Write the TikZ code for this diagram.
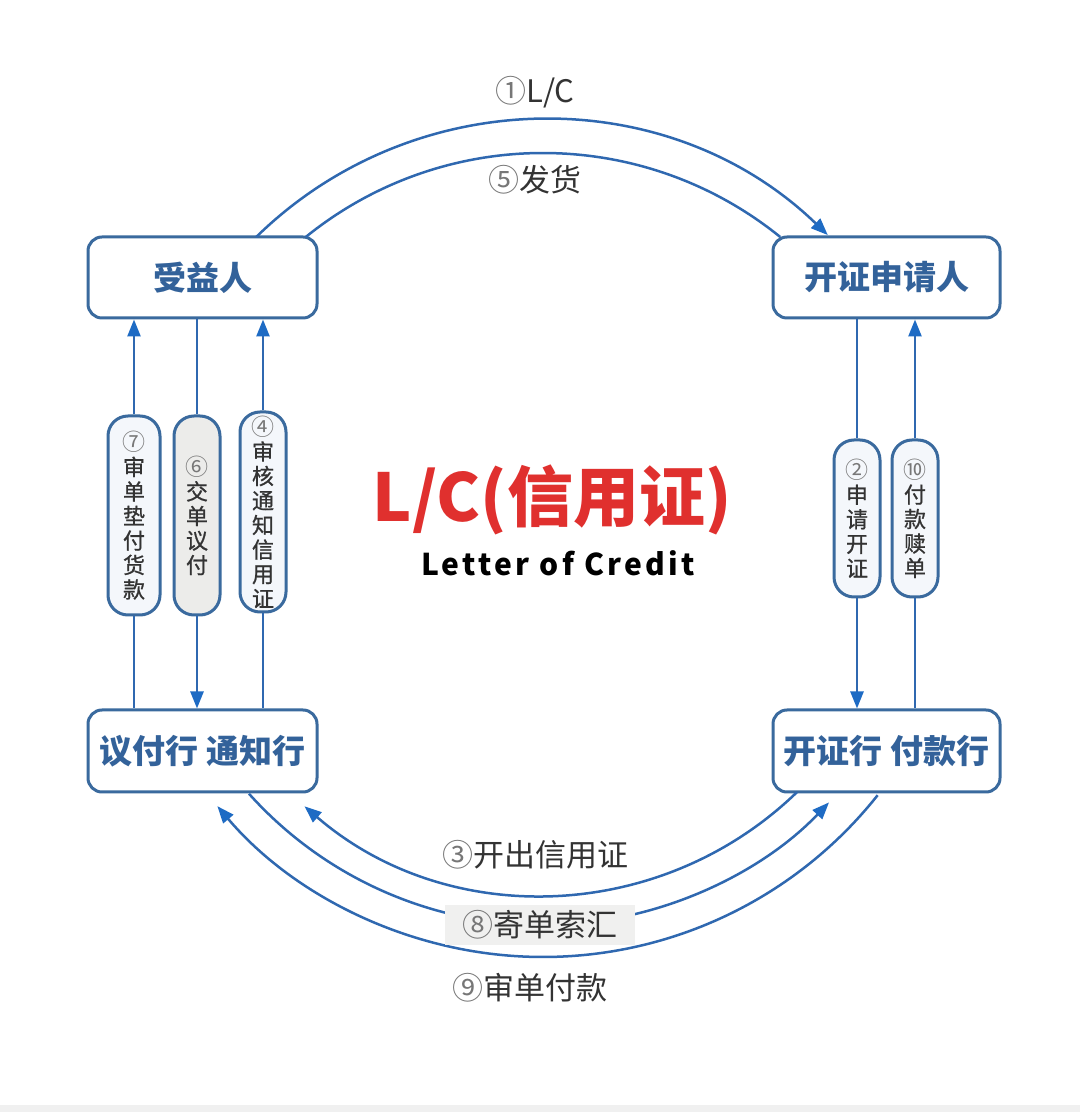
\documentclass[tikz,border=0pt]{standalone}
\usepackage{fontspec}
\setmainfont{Noto Sans CJK SC}
\newfontfamily\latb[LetterSpace=11]{Noto Sans CJK SC}
\newfontfamily\cjkmed[FakeBold=0.9]{Noto Sans CJK SC}
\usetikzlibrary{arrows.meta,calc}
\definecolor{boxblue}{HTML}{3A6A9E}
\definecolor{txtblue}{HTML}{33629A}
\definecolor{arrblue}{HTML}{2F68B0}
\definecolor{tipblue}{HTML}{1E6BC4}
\definecolor{lbl}{HTML}{333333}
\definecolor{num}{HTML}{777777}
\definecolor{lcred}{HTML}{E0302E}
\definecolor{pillfill}{HTML}{F4F7FB}
\definecolor{pillgray}{HTML}{ECECEA}
\definecolor{lblbg}{HTML}{F0F0EF}
\begin{document}
\begin{tikzpicture}[x=1pt,y=1pt,
  box/.style={draw=boxblue, line width=3pt, rounded corners=14pt, fill=white, minimum width=229pt, minimum height=81pt, inner sep=0pt, font=\fontsize{33}{33}\selectfont\bfseries, text=txtblue},
  pill/.style={draw=boxblue, line width=3pt, rounded corners=20pt, fill=pillfill, minimum width=46pt, inner sep=0pt, align=center, font=\cjkmed\fontsize{22}{24.5}\selectfont, text=lbl},
  conn/.style={draw=arrblue, line width=2.5pt},
  tip/.style={-{Triangle[length=17pt,width=13pt,color=tipblue]}},
  arclbl/.style={font=\fontsize{31}{31}\selectfont, text=lbl, inner sep=0pt},
  pnum/.style={},
]
\useasboundingbox (0,0) rectangle (1080,1112);
\fill[white] (0,0) rectangle (1080,1112);
\fill[gray!12] (0,0) rectangle (1080,7);
\coordinate (o) at (543,582);

% boxes
\node[box] (ben) at (202.5,834.5) {受益人};
\node[box, minimum width=227pt] (app) at (886.5,834.5) {开证申请人};
\node[box, minimum height=82pt] (adv) at (202.5,361) {议付行 通知行};
\node[box, minimum width=227pt, minimum height=82pt] (iss) at (886.5,361) {开证行 付款行};

% pills
\node[pill, minimum width=52pt, minimum height=199pt] (p7) at (134,596.5) {{\normalfont\fontsize{23}{24.5}\selectfont\color{num}⑦}\\审\\单\\垫\\付\\货\\款};
\node[pill, fill=pillgray, minimum height=199pt] (p6) at (197,596.5) {{\normalfont\fontsize{23}{24.5}\selectfont\color{num}⑥}\\交\\单\\议\\付};
\node[pill, minimum height=200pt] (p4) at (263,600) {{\normalfont\fontsize{23}{24.5}\selectfont\color{num}④}\\审\\核\\通\\知\\信\\用\\证};
\node[pill, minimum height=157pt] (p2) at (857,593.5) {{\normalfont\fontsize{23}{24.5}\selectfont\color{num}②}\\申\\请\\开\\证};
\node[pill, minimum height=157pt] (p10) at (915,593.5) {{\normalfont\fontsize{23}{24.5}\selectfont\color{num}⑩}\\付\\款\\赎\\单};

% vertical connectors
\draw[conn,tip] (p7.north) -- (p7.north |- ben.south);
\draw[conn] (p7.south) -- (p7.south |- adv.north);
\draw[conn] (p6.north |- ben.south) -- (p6.north);
\draw[conn,tip] (p6.south) -- (p6.south |- adv.north);
\draw[conn,tip] (p4.north) -- (p4.north |- ben.south);
\draw[conn] (p4.south) -- (p4.south |- adv.north);
\draw[conn] (p2.north |- app.south) -- (p2.north);
\draw[conn,tip] (p2.south) -- (p2.south |- iss.north);
\draw[conn,tip] (p10.north) -- (p10.north |- app.south);
\draw[conn] (p10.south) -- (p10.south |- iss.north);

% arcs
\draw[conn,tip] ($(o)+(134.4:410)$) arc[start angle=134.4, end angle=46, radius=410];
\draw[conn] ($(o)+(129:377)$) arc[start angle=129, end angle=51, radius=377];
\draw[conn,tip] ($(o)+(-45.9:365)$) arc[start angle=-45.9, end angle=-130.8, radius=365];
\draw[conn,tip] ($(o)+(-138.1:395)$) arc[start angle=-138.1, end angle=-43.6, radius=395];
\draw[conn,tip] ($(o)+(-38.4:427)$) arc[start angle=-38.4, end angle=-139.7, radius=427];

% arc labels
\node[arclbl] (l1) at (535,1020) {{\color{num}①}L/C};
\node[arclbl] (l5) at (535,932) {{\color{num}⑤}发货};
\node[arclbl] (l3) at (535,257) {{\color{num}③}开出信用证};
\node[arclbl, fill=lblbg, minimum width=190pt, minimum height=40pt] (l8) at (540,187) {{\color{num}⑧}寄单索汇};
\node[arclbl] (l9) at (530,124) {{\color{num}⑨}审单付款};

% title
\node[font=\fontsize{66}{66}\selectfont\bfseries, text=lcred, inner sep=0pt] (title) at (552,612) {L/C(信用证)};
\node[font=\latb\fontsize{30}{30}\selectfont\bfseries, text=black, inner sep=0pt] (sub) at (558,549) {Letter of Credit};
\end{tikzpicture}
\end{document}
